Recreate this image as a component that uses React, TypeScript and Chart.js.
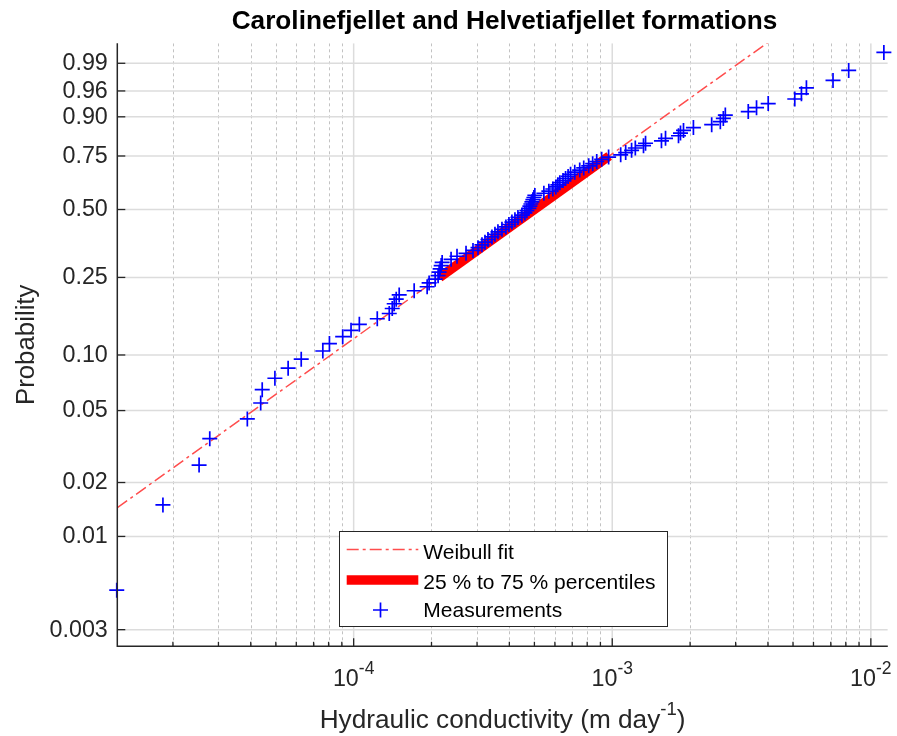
import React, { useEffect, useRef } from "react";
import { Chart, registerables } from "chart.js";

Chart.register(...registerables);

const W = 897;
const H = 736;

// Measured hydraulic conductivity (m/day), sorted, with plotting-position probabilities
const conductivity = [
  1.213e-5, 1.83e-5, 2.525e-5, 2.777e-5, 3.88e-5, 4.37e-5, 4.43e-5, 4.96e-5, 5.58e-5, 6.27e-5,
  7.6e-5, 8.06e-5, 9.07e-5, 9.77e-5, 1.052e-4, 1.234e-4, 1.373e-4, 1.41e-4, 1.435e-4, 1.461e-4,
  1.5e-4, 1.714e-4, 1.924e-4, 1.958e-4, 2.066e-4, 2.121e-4, 2.14e-4, 2.16e-4, 2.18e-4, 2.199e-4,
  2.381e-4, 2.51e-4, 2.72e-4, 2.894e-4, 3.026e-4, 3.135e-4, 3.22e-4, 3.307e-4, 3.426e-4, 3.519e-4,
  3.614e-4, 3.745e-4, 3.88e-4, 3.985e-4, 4.093e-4, 4.204e-4, 4.318e-4, 4.474e-4, 4.595e-4, 4.677e-4,
  4.761e-4, 4.803e-4, 4.846e-4, 4.89e-4, 4.932e-4, 4.977e-4, 5.02e-4, 5.44e-4, 5.686e-4, 5.892e-4,
  6.05e-4, 6.158e-4, 6.27e-4, 6.45e-4, 6.6e-4, 6.75e-4, 6.9e-4, 7.161e-4, 7.486e-4, 7.757e-4,
  8.11e-4, 8.4e-4, 8.71e-4, 9.1e-4, 9.68e-4, 1.078e-3, 1.127e-3, 1.188e-3, 1.228e-3, 1.321e-3,
  1.345e-3, 1.55e-3, 1.607e-3, 1.804e-3, 1.836e-3, 1.886e-3, 2.06e-3, 2.424e-3, 2.618e-3, 2.689e-3,
  2.737e-3, 3.357e-3, 3.614e-3, 4.01e-3, 5.08e-3, 5.39e-3, 5.635e-3, 7.14e-3, 8.21e-3, 1.123e-2,
];

const probability = [
  0.005, 0.015, 0.025, 0.035, 0.045, 0.055, 0.065, 0.075, 0.085, 0.095,
  0.105, 0.115, 0.125, 0.135, 0.145, 0.155, 0.165, 0.175, 0.185, 0.195,
  0.205, 0.215, 0.225, 0.235, 0.245, 0.255, 0.265, 0.275, 0.285, 0.295,
  0.305, 0.315, 0.325, 0.335, 0.345, 0.355, 0.365, 0.375, 0.385, 0.395,
  0.405, 0.415, 0.425, 0.435, 0.445, 0.455, 0.465, 0.475, 0.485, 0.495,
  0.505, 0.515, 0.525, 0.535, 0.545, 0.555, 0.565, 0.575, 0.585, 0.595,
  0.605, 0.615, 0.625, 0.635, 0.645, 0.655, 0.665, 0.675, 0.685, 0.695,
  0.705, 0.715, 0.725, 0.735, 0.745, 0.755, 0.765, 0.775, 0.785, 0.795,
  0.805, 0.815, 0.825, 0.835, 0.845, 0.855, 0.865, 0.875, 0.885, 0.895,
  0.905, 0.915, 0.925, 0.935, 0.945, 0.955, 0.965, 0.975, 0.985, 0.995,
];

// Weibull fit line end points and 25–75 % percentile segment
const fitConductivity = [1.22e-5, 4.0e-3];
const fitProbability = [0.01448, 0.9976];
const bandConductivity = [2.15e-4, 9.73e-4];
const bandProbability = [0.25, 0.75];

// Axis ticks
const probTicks = [0.003, 0.01, 0.02, 0.05, 0.1, 0.25, 0.5, 0.75, 0.9, 0.96, 0.99];
const probTickLabels = ["0.003", "0.01", "0.02", "0.05", "0.10", "0.25", "0.50", "0.75", "0.90", "0.96", "0.99"];
const xMajorTicks = [1e-4, 1e-3, 1e-2];
const xMajorExponents = ["-4", "-3", "-2"];
const xMinorTicks = [
  2e-5, 3e-5, 4e-5, 5e-5, 6e-5, 7e-5, 8e-5, 9e-5,
  2e-4, 3e-4, 4e-4, 5e-4, 6e-4, 7e-4, 8e-4, 9e-4,
  2e-3, 3e-3, 4e-3, 5e-3, 6e-3, 7e-3, 8e-3, 9e-3,
];

const X_MIN = 1.219e-5;
const X_MAX = 1.163e-2;
const Y_MIN = -6.023;
const Y_MAX = 1.786;

const TITLE = "Carolinefjellet and Helvetiafjellet formations";
const Y_LABEL = "Probability";
const X_LABEL = "Hydraulic conductivity (m day";
const X_LABEL_SUP = "-1";
const LEGEND_LABELS = ["Weibull fit", "25 % to 75 % percentiles", "Measurements"];

const FONT = '"Liberation Sans", Arial, Helvetica, sans-serif';
const AX = "#262626";
const FIT_COLOR = "#ff4d4d";
const FIT_DASH = [12, 4, 3, 4];
const BLUE = "#0000ff";

const wb = (p: number) => Math.log(-Math.log(1 - p));

function drawPlus(ctx: CanvasRenderingContext2D, x: number, y: number, r: number) {
  ctx.beginPath();
  ctx.moveTo(x - r, y);
  ctx.lineTo(x + r, y);
  ctx.moveTo(x, y - r);
  ctx.lineTo(x, y + r);
  ctx.stroke();
}

const decor = {
  id: "decor",
  beforeDatasetsDraw(chart: any) {
    const { ctx, chartArea: a } = chart;
    const xs = chart.scales.x;
    const ys = chart.scales.y;
    ctx.save();
    ctx.beginPath();
    ctx.rect(a.left, a.top, a.right - a.left, a.bottom - a.top);
    ctx.clip();
    ctx.lineWidth = 1;
    ctx.strokeStyle = "#c2c2c2";
    ctx.setLineDash([3, 3]);
    for (const v of xMinorTicks) {
      const px = Math.round(xs.getPixelForValue(v)) + 0.5;
      ctx.beginPath();
      ctx.moveTo(px, a.top);
      ctx.lineTo(px, a.bottom);
      ctx.stroke();
    }
    ctx.setLineDash([]);
    ctx.strokeStyle = "#dcdcdc";
    ctx.lineWidth = 1.5;
    for (const v of xMajorTicks) {
      const px = xs.getPixelForValue(v);
      ctx.beginPath();
      ctx.moveTo(px, a.top);
      ctx.lineTo(px, a.bottom);
      ctx.stroke();
    }
    for (const p of probTicks) {
      const py = ys.getPixelForValue(wb(p));
      ctx.beginPath();
      ctx.moveTo(a.left, py);
      ctx.lineTo(a.right, py);
      ctx.stroke();
    }
    ctx.restore();
  },
  afterDatasetsDraw(chart: any) {
    const { ctx, chartArea: a } = chart;
    const xs = chart.scales.x;
    const ys = chart.scales.y;
    ctx.save();
    // axes
    ctx.strokeStyle = AX;
    ctx.lineWidth = 1.5;
    ctx.beginPath();
    ctx.moveTo(a.left, a.top);
    ctx.lineTo(a.left, a.bottom);
    ctx.lineTo(a.right, a.bottom);
    ctx.stroke();
    ctx.lineWidth = 1.3;
    for (const p of probTicks) {
      const py = ys.getPixelForValue(wb(p));
      ctx.beginPath();
      ctx.moveTo(a.left, py);
      ctx.lineTo(a.left + 8, py);
      ctx.stroke();
    }
    for (const v of xMajorTicks) {
      const px = xs.getPixelForValue(v);
      ctx.beginPath();
      ctx.moveTo(px, a.bottom);
      ctx.lineTo(px, a.bottom - 8);
      ctx.stroke();
    }
    for (const v of xMinorTicks) {
      const px = xs.getPixelForValue(v);
      ctx.beginPath();
      ctx.moveTo(px, a.bottom);
      ctx.lineTo(px, a.bottom - 4.5);
      ctx.stroke();
    }
    // y tick labels
    ctx.fillStyle = AX;
    ctx.font = `23.3px ${FONT}`;
    ctx.textAlign = "right";
    ctx.textBaseline = "middle";
    probTicks.forEach((p, i) => {
      ctx.fillText(probTickLabels[i], a.left - 9.5, ys.getPixelForValue(wb(p)) + 0.5);
    });
    // x tick labels with superscripts
    ctx.textAlign = "left";
    ctx.textBaseline = "alphabetic";
    xMajorTicks.forEach((v, i) => {
      const cx = xs.getPixelForValue(v);
      ctx.font = `23.3px ${FONT}`;
      const wb0 = ctx.measureText("10").width;
      ctx.font = `17.5px ${FONT}`;
      const we = ctx.measureText(xMajorExponents[i]).width;
      const x0 = cx - (wb0 + we) / 2;
      ctx.font = `23.3px ${FONT}`;
      ctx.fillText("10", x0, 685.5);
      ctx.font = `17.5px ${FONT}`;
      ctx.fillText(xMajorExponents[i], x0 + wb0, 674);
    });
    // x label
    {
      ctx.font = `26.2px ${FONT}`;
      const w1 = ctx.measureText(X_LABEL).width;
      const w3 = ctx.measureText(")").width;
      ctx.font = `18.5px ${FONT}`;
      const w2 = ctx.measureText(X_LABEL_SUP).width;
      const cx = (a.left + a.right) / 2;
      const x0 = cx - (w1 + w2 + w3) / 2;
      ctx.font = `26.2px ${FONT}`;
      ctx.fillText(X_LABEL, x0, 727.5);
      ctx.fillText(")", x0 + w1 + w2, 727.5);
      ctx.font = `18.5px ${FONT}`;
      ctx.fillText(X_LABEL_SUP, x0 + w1, 715);
    }
    // y label
    ctx.save();
    ctx.translate(33.5, (a.top + a.bottom) / 2);
    ctx.rotate(-Math.PI / 2);
    ctx.textAlign = "center";
    ctx.font = `25.8px ${FONT}`;
    ctx.fillText(Y_LABEL, 0, 0);
    ctx.restore();
    // title
    ctx.fillStyle = "#000";
    ctx.textAlign = "center";
    ctx.font = `bold 26.2px ${FONT}`;
    ctx.fillText(TITLE, (a.left + a.right) / 2 + 2, 29);
    // legend
    const lx = 339.5, ly = 531.5, lw = 328, lh = 95;
    ctx.fillStyle = "#fff";
    ctx.fillRect(lx, ly, lw, lh);
    ctx.strokeStyle = AX;
    ctx.lineWidth = 1;
    ctx.strokeRect(lx, ly, lw, lh);
    ctx.strokeStyle = FIT_COLOR;
    ctx.lineWidth = 1.5;
    ctx.setLineDash(FIT_DASH);
    ctx.beginPath();
    ctx.moveTo(346.7, 549.5);
    ctx.lineTo(418.3, 549.5);
    ctx.stroke();
    ctx.setLineDash([]);
    ctx.strokeStyle = "#ff0000";
    ctx.lineWidth = 9.5;
    ctx.beginPath();
    ctx.moveTo(346.7, 580);
    ctx.lineTo(418.3, 580);
    ctx.stroke();
    ctx.strokeStyle = BLUE;
    ctx.lineWidth = 1.7;
    drawPlus(ctx, 380.5, 610, 7.5);
    ctx.fillStyle = "#000";
    ctx.textAlign = "left";
    ctx.font = `21px ${FONT}`;
    ctx.fillText(LEGEND_LABELS[0], 423.3, 559);
    ctx.fillText(LEGEND_LABELS[1], 423.3, 588.5);
    ctx.fillText(LEGEND_LABELS[2], 423.3, 617);
    ctx.restore();
  },
};

export default function App() {
  const ref = useRef<HTMLCanvasElement>(null);
  useEffect(() => {
    const canvas = ref.current;
    if (!canvas) return;
    const chart = new Chart(canvas, {
      type: "scatter",
      data: {
        datasets: [
          {
            label: LEGEND_LABELS[2],
            data: conductivity.map((k, i) => ({ x: k, y: wb(probability[i]) })),
            pointStyle: "cross",
            pointRadius: 7.5,
            pointBorderColor: BLUE,
            pointBackgroundColor: BLUE,
            pointBorderWidth: 1.7,
            showLine: false,
            clip: false,
            order: 1,
          } as any,
          {
            label: LEGEND_LABELS[1],
            type: "line",
            data: bandConductivity.map((k, i) => ({ x: k, y: wb(bandProbability[i]) })),
            borderColor: "#ff0000",
            borderWidth: 9.5,
            borderCapStyle: "butt",
            pointRadius: 0,
            order: 2,
          } as any,
          {
            label: LEGEND_LABELS[0],
            type: "line",
            data: fitConductivity.map((k, i) => ({ x: k, y: wb(fitProbability[i]) })),
            borderColor: FIT_COLOR,
            borderWidth: 1.5,
            borderDash: FIT_DASH,
            pointRadius: 0,
            order: 3,
          } as any,
        ],
      },
      options: {
        responsive: false,
        animation: false,
        events: [],
        layout: { padding: { left: 117.3, top: 43.3, right: 7, bottom: 89.7 } },
        scales: {
          x: { type: "logarithmic", min: X_MIN, max: X_MAX, display: false },
          y: { type: "linear", min: Y_MIN, max: Y_MAX, display: false },
        },
        plugins: {
          legend: { display: false },
          tooltip: { enabled: false },
          title: { display: false },
        },
      },
      plugins: [decor],
    });
    return () => chart.destroy();
  }, []);
  return (
    <div style={{ position: "absolute", left: 0, top: 0, width: W, height: H, background: "#fff" }}>
      <canvas ref={ref} width={W} height={H} style={{ display: "block", width: W, height: H }} />
    </div>
  );
}
